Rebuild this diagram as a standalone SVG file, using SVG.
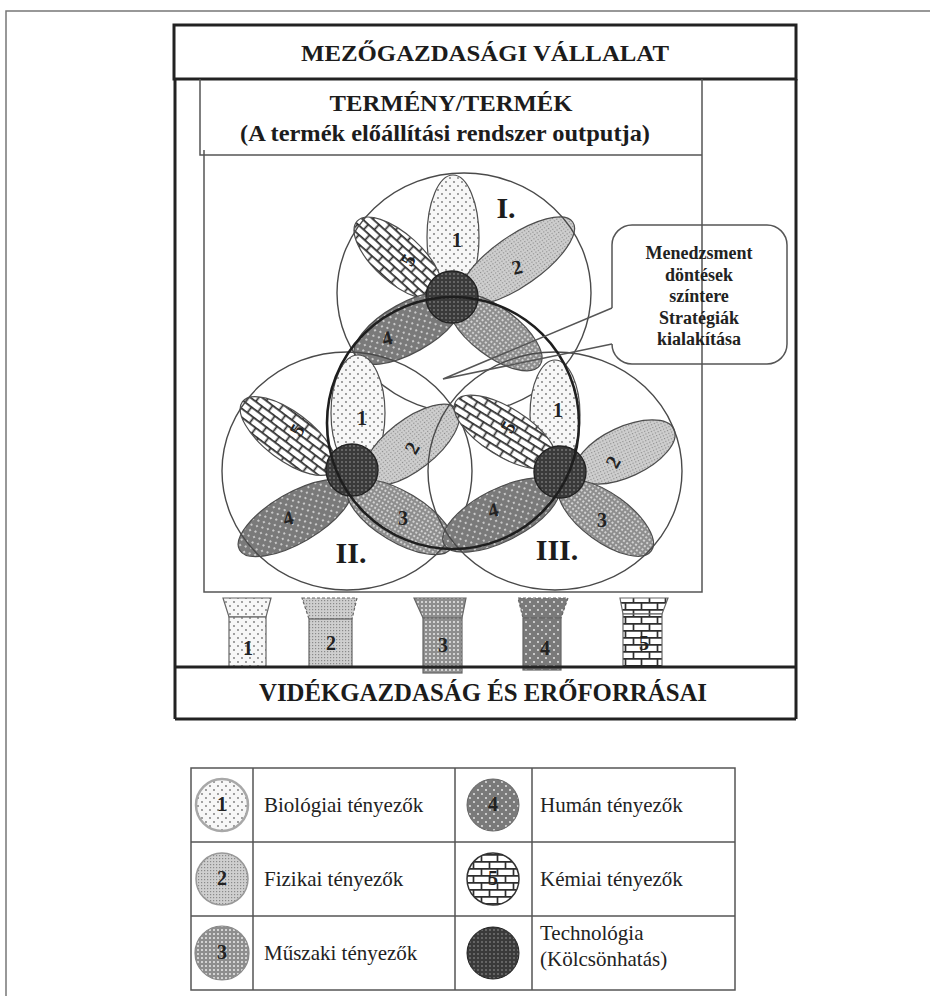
<svg xmlns="http://www.w3.org/2000/svg" width="930" height="996" viewBox="0 0 930 996">
  <defs>
    <style>
      .frame { fill: none; stroke: #222; stroke-width: 3; }
      .thin { fill: none; stroke: #555; stroke-width: 1.5; }
      .ring { fill: none; stroke: #4a4a4a; stroke-width: 1.4; }
      .bold-ring { fill: none; stroke: #1e1e1e; stroke-width: 2.6; }
      .petal { stroke: #4d4d4d; stroke-width: 1.2; }
      .hub { fill: url(#pTech); stroke: #222; stroke-width: 1.4; }
      .title { font-family: "Liberation Serif", "Times New Roman", serif; font-weight: bold; fill: #1c1c1c; text-anchor: middle; }
      .num { font-family: "Liberation Serif", "Times New Roman", serif; font-weight: bold; font-size: 20px; fill: #222; text-anchor: middle; }
      .roman { font-family: "Liberation Serif", "Times New Roman", serif; font-weight: bold; font-size: 30px; fill: #1c1c1c; text-anchor: middle; }
      .note { font-family: "Liberation Serif", "Times New Roman", serif; font-weight: bold; font-size: 18px; fill: #222; text-anchor: middle; }
      .leg { font-family: "Liberation Serif", "Times New Roman", serif; font-size: 21px; fill: #222; }
      .cell { fill: none; stroke: #555; stroke-width: 1.5; }
      .pillar { stroke: #666; stroke-width: 1.2; }
    </style>
    <!-- 1: biological - sparse grey dots on white -->
    <pattern id="pDots" width="8" height="8" patternUnits="userSpaceOnUse">
      <rect width="8" height="8" fill="#f7f7f7"/>
      <circle cx="2" cy="2" r="0.9" fill="#777"/>
      <circle cx="6" cy="6" r="0.9" fill="#777"/>
    </pattern>
    <!-- 2: physical - fine light grey mesh -->
    <pattern id="pFine" width="3" height="3" patternUnits="userSpaceOnUse">
      <rect width="3" height="3" fill="#cfcfcf"/>
      <rect width="1.2" height="1.2" fill="#8a8a8a"/>
    </pattern>
    <!-- 3: technical - grey checker with white dots -->
    <pattern id="pCheck" width="4" height="4" patternUnits="userSpaceOnUse">
      <rect width="4" height="4" fill="#8e8e8e"/>
      <circle cx="2" cy="2" r="0.95" fill="#f0f0f0"/>
    </pattern>
    <!-- 4: human - dark grey with white dots -->
    <pattern id="pHuman" width="8" height="8" patternUnits="userSpaceOnUse">
      <rect width="8" height="8" fill="#7a7a7a"/>
      <circle cx="2" cy="2" r="0.9" fill="#eee"/>
      <circle cx="6" cy="6" r="0.9" fill="#eee"/>
    </pattern>
    <!-- 5: chemical - brick -->
    <pattern id="pBrick" width="16" height="14" patternUnits="userSpaceOnUse">
      <rect width="16" height="14" fill="#fff"/>
      <path d="M0 0.8H16M0 7.8H16M1.5 0V7.8M9.5 7.8V14" stroke="#2e2e2e" stroke-width="1.7" fill="none"/>
    </pattern>
    <!-- technology / interaction - dark dense checker -->
    <pattern id="pTech" width="4" height="4" patternUnits="userSpaceOnUse">
      <rect width="4" height="4" fill="#3a3a3a"/>
      <circle cx="2" cy="2" r="0.8" fill="#9c9c9c"/>
    </pattern>
  </defs>

  <rect width="930" height="996" fill="#fff"/>

  <!-- page border -->
  <path d="M6 996V11H930" fill="none" stroke="#777" stroke-width="1.5"/>

  <!-- farm enterprise frame -->
  <g id="enterprise">
    <rect class="frame" x="174" y="25" width="622" height="54"/>
    <path class="frame" d="M175 79V719M796 79V719"/>
    <text class="title" x="485" y="61" font-size="24" textLength="368" lengthAdjust="spacingAndGlyphs">MEZŐGAZDASÁGI VÁLLALAT</text>
  </g>

  <!-- product box and production system frame -->
  <g id="product">
    <path class="thin" d="M200 79V155H702M702 79V592H204V150"/>
    <text class="title" x="451" y="111" font-size="24" textLength="243" lengthAdjust="spacingAndGlyphs">TERMÉNY/TERMÉK</text>
    <text class="title" x="445" y="141" font-size="24" textLength="410" lengthAdjust="spacingAndGlyphs">(A termék előállítási rendszer outputja)</text>
  </g>

  <!-- cluster I -->
  <g id="cluster-1">
    <ellipse class="petal" cx="453" cy="237" rx="26" ry="62" fill="url(#pDots)"/>
    <ellipse class="petal" cx="517" cy="261" rx="68" ry="25" transform="rotate(-35 517 261)" fill="url(#pFine)"/>
    <ellipse class="petal" cx="398" cy="258" rx="55" ry="24" transform="rotate(42 398 258)" fill="url(#pBrick)"/>
    <ellipse class="petal" cx="408" cy="328" rx="60" ry="25" transform="rotate(-29 408 328)" fill="url(#pHuman)"/>
    <ellipse class="petal" cx="495" cy="332" rx="56" ry="24" transform="rotate(37 495 332)" fill="url(#pCheck)"/>
    <circle class="hub" cx="452" cy="297" r="26"/>
    <text class="num" x="457" y="247">1</text>
    <text class="num" x="517" y="274" transform="rotate(-15 517 267)">2</text>
    <text class="num" x="408" y="267" transform="rotate(-60 408 260)">5</text>
    <text class="num" x="387" y="345" transform="rotate(-15 387 338)">4</text>
    <ellipse class="ring" cx="464" cy="293" rx="127" ry="120"/>
    <text class="roman" x="506" y="218">I.</text>
  </g>

  <!-- cluster II -->
  <g id="cluster-2">
    <ellipse class="petal" cx="358" cy="413" rx="27" ry="58" fill="url(#pDots)"/>
    <ellipse class="petal" cx="411" cy="445" rx="58" ry="25" transform="rotate(-38 411 445)" fill="url(#pFine)"/>
    <ellipse class="petal" cx="288" cy="436" rx="57" ry="24" transform="rotate(37 288 436)" fill="url(#pBrick)"/>
    <ellipse class="petal" cx="295" cy="518" rx="64" ry="25" transform="rotate(-30 295 518)" fill="url(#pHuman)"/>
    <ellipse class="petal" cx="400" cy="517" rx="60" ry="25" transform="rotate(31 400 517)" fill="url(#pCheck)"/>
    <circle class="hub" cx="352" cy="470" r="26"/>
    <text class="num" x="362" y="425">1</text>
    <text class="num" x="412" y="455" transform="rotate(-60 412 448)">2</text>
    <text class="num" x="297" y="437" transform="rotate(-60 297 430)">5</text>
    <text class="num" x="288" y="525" transform="rotate(-15 288 518)">4</text>
    <text class="num" x="403" y="525">3</text>
    <ellipse class="ring" cx="347" cy="471" rx="125" ry="119"/>
    <text class="roman" x="351" y="563">II.</text>
  </g>

  <!-- cluster III -->
  <g id="cluster-3">
    <ellipse class="petal" cx="555" cy="415" rx="25" ry="55" fill="url(#pDots)"/>
    <ellipse class="petal" cx="625" cy="452" rx="54" ry="25" transform="rotate(-25 625 452)" fill="url(#pFine)"/>
    <ellipse class="petal" cx="505" cy="432" rx="58" ry="24" transform="rotate(32 505 432)" fill="url(#pBrick)"/>
    <ellipse class="petal" cx="501" cy="515" rx="64" ry="26" transform="rotate(-27 501 515)" fill="url(#pHuman)"/>
    <ellipse class="petal" cx="606" cy="518" rx="56" ry="24" transform="rotate(36 606 518)" fill="url(#pCheck)"/>
    <circle class="hub" cx="560" cy="472" r="26"/>
    <text class="num" x="558" y="417">1</text>
    <text class="num" x="613" y="469" transform="rotate(-60 613 462)">2</text>
    <text class="num" x="508" y="434" transform="rotate(-60 508 427)">5</text>
    <text class="num" x="493" y="517" transform="rotate(-15 493 510)">4</text>
    <text class="num" x="602" y="527">3</text>
    <ellipse class="ring" cx="555" cy="471" rx="127" ry="119"/>
    <text class="roman" x="557" y="560">III.</text>
  </g>

  <!-- management arena -->
  <g id="management">
    <circle class="bold-ring" cx="453" cy="423" r="126"/>
    <path class="thin" d="M612 308V245A20 20 0 0 1 632 225H767A20 20 0 0 1 787 245V344A20 20 0 0 1 767 364H632A20 20 0 0 1 612 344" fill="#fff"/>
    <text class="note" x="699" y="259">Menedzsment</text>
    <text class="note" x="699" y="280.5">döntések</text>
    <text class="note" x="699" y="302">színtere</text>
    <text class="note" x="699" y="323.5">Stratégiák</text>
    <text class="note" x="699" y="345">kialakítása</text>
  </g>

  <!-- callout pointer -->
  <g id="connectors">
    <polyline class="thin" points="612,308 443,379 612,344" fill="none"/>
  </g>

  <!-- pillars standing on the rural economy -->
  <g id="pillars">
    <g id="pillar-1">
      <polygon class="pillar" points="223,598 271,598 266,617 229,617" fill="url(#pDots)"/>
      <rect class="pillar" x="229" y="617" width="37" height="50" fill="url(#pDots)"/>
      <text class="num" x="248" y="655">1</text>
    </g>
    <g id="pillar-2">
      <polygon class="pillar" points="302,598 357,598 352,619 309,619" fill="url(#pFine)" stroke-dasharray="3 2"/>
      <rect class="pillar" x="309" y="619" width="43" height="48" fill="url(#pFine)"/>
      <text class="num" x="331" y="650">2</text>
    </g>
    <g id="pillar-3">
      <polygon class="pillar" points="414,598 466,598 462,618 423,618" fill="url(#pCheck)"/>
      <rect class="pillar" x="423" y="618" width="39" height="55" fill="url(#pCheck)" stroke="none"/>
      <text class="num" x="443" y="652">3</text>
    </g>
    <g id="pillar-4">
      <polygon class="pillar" points="518,598 568,598 561,618 523,618" fill="url(#pHuman)" stroke-dasharray="3 2"/>
      <rect class="pillar" x="523" y="618" width="38" height="52" fill="url(#pHuman)"/>
      <text class="num" x="545" y="655">4</text>
    </g>
    <g id="pillar-5">
      <polygon class="pillar" points="620,598 668,598 662,614 623,614" fill="url(#pBrick)"/>
      <rect class="pillar" x="623" y="614" width="39" height="53" fill="url(#pBrick)"/>
      <text class="num" x="644" y="650">5</text>
    </g>
  </g>

  <!-- rural economy base -->
  <g id="rural">
    <path class="frame" d="M175 667H796M175 719H796" stroke-width="2.6"/>
    <text class="title" x="483" y="701" font-size="25" textLength="448" lengthAdjust="spacingAndGlyphs">VIDÉKGAZDASÁG ÉS ERŐFORRÁSAI</text>
  </g>

  <!-- legend table -->
  <g id="legend">
    <rect class="cell" x="191" y="768" width="544" height="222"/>
    <path class="cell" d="M191 842H735M191 916H735M253 768V990M455 768V990M532 768V990"/>
    <g id="legend-1">
      <circle cx="222" cy="805" r="26" fill="url(#pDots)" stroke="#a8a8a8" stroke-width="2.5"/>
      <text class="num" x="222" y="811" font-size="17">1</text>
      <text class="leg" x="264" y="812">Biológiai tényezők</text>
    </g>
    <g id="legend-2">
      <circle cx="222" cy="879" r="26" fill="url(#pFine)" stroke="#999" stroke-width="1.5"/>
      <text class="num" x="222" y="885" font-size="17">2</text>
      <text class="leg" x="264" y="886">Fizikai tényezők</text>
    </g>
    <g id="legend-3">
      <circle cx="222" cy="953" r="27" fill="url(#pCheck)" stroke="#888" stroke-width="1.2"/>
      <text class="num" x="222" y="959" font-size="17">3</text>
      <text class="leg" x="264" y="960">Műszaki tényezők</text>
    </g>
    <g id="legend-4">
      <circle cx="493" cy="805" r="26" fill="url(#pHuman)" stroke="#666" stroke-width="1"/>
      <text class="num" x="493" y="811" font-size="17" fill="#444">4</text>
      <text class="leg" x="540" y="812">Humán tényezők</text>
    </g>
    <g id="legend-5">
      <circle cx="493" cy="879" r="26" fill="url(#pBrick)" stroke="#333" stroke-width="1.5"/>
      <text class="num" x="493" y="885" font-size="17">5</text>
      <text class="leg" x="540" y="886">Kémiai tényezők</text>
    </g>
    <g id="legend-6">
      <circle cx="493" cy="953" r="26" fill="url(#pTech)" stroke="#222" stroke-width="1"/>
      <text class="leg" x="540" y="940">Technológia</text>
      <text class="leg" x="540" y="966">(Kölcsönhatás)</text>
    </g>
  </g>
</svg>
